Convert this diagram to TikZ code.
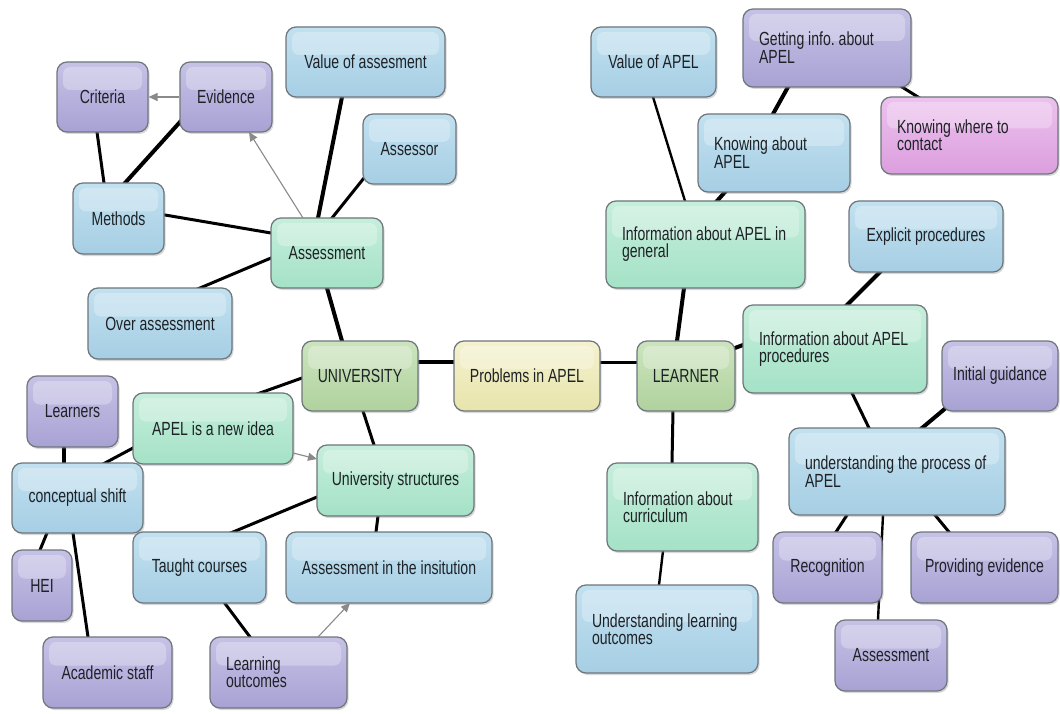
\documentclass[tikz,border=0pt]{standalone}
\usepackage{fontspec}
\setmainfont{Liberation Sans}[FakeStretch=0.74]
\usetikzlibrary{arrows.meta,shadows}

\definecolor{bluebase}{RGB}{166,206,228}
\definecolor{bluetop}{RGB}{194,225,240}
\definecolor{purpbase}{RGB}{168,162,212}
\definecolor{purptop}{RGB}{198,194,230}
\definecolor{greenbase}{RGB}{164,226,198}
\definecolor{greentop}{RGB}{198,238,220}
\definecolor{olivebase}{RGB}{176,210,158}
\definecolor{olivetop}{RGB}{204,228,190}
\definecolor{yelbase}{RGB}{232,228,172}
\definecolor{yeltop}{RGB}{244,242,206}
\definecolor{pinkbase}{RGB}{220,158,222}
\definecolor{pinktop}{RGB}{236,194,238}
\definecolor{edgegray}{RGB}{110,118,124}
\definecolor{ink}{RGB}{30,34,38}
\definecolor{arrowgray}{RGB}{138,138,138}

\newcommand{\boxfont}{\fontsize{19}{17}\selectfont\frenchspacing
  \hyphenpenalty=10000\relax\exhyphenpenalty=10000\relax}

\pgfdeclarelayer{back}
\pgfdeclarelayer{links}
\pgfsetlayers{back,links,main}

\begin{document}
\begin{tikzpicture}[x=1pt,y=-1pt,
  box/.style={draw=edgegray,line width=1.2pt,rounded corners=10pt,align=center,
    font=\boxfont,text=ink,inner xsep=6pt,inner ysep=0pt,
    drop shadow={shadow xshift=1.5pt,shadow yshift=-2pt,opacity=0.3},
    path picture={\fill[white,opacity=0.28,rounded corners=7pt]
      ([xshift=6pt,yshift=-5pt]path picture bounding box.north west) rectangle
      ([xshift=-6pt,yshift=7pt]path picture bounding box.east);}},
  cblue/.style={box,top color=bluetop,bottom color=bluebase},
  cpurple/.style={box,top color=purptop,bottom color=purpbase},
  cgreen/.style={box,top color=greentop,bottom color=greenbase},
  colive/.style={box,top color=olivetop,bottom color=olivebase},
  cyellow/.style={box,top color=yeltop,bottom color=yelbase},
  cpink/.style={box,top color=pinktop,bottom color=pinkbase},
  sz/.style 2 args={minimum width=#1pt,minimum height=#2pt},
  ml/.style={align=flush left,inner xsep=16pt,text width=#1pt},
  link/.style={line width=3pt,shorten <=-4pt,shorten >=-4pt},
  heavy/.style={link,line width=4pt},
  light/.style={link,line width=2.4pt},
  garrow/.style={draw=arrowgray,line width=1.1pt,-{Triangle[length=9pt,width=8pt]}}
]
\begin{pgfonlayer}{back}
  \fill[white] (0,0) rectangle (1060,714);
\end{pgfonlayer}
\useasboundingbox (0,0) rectangle (1060,714);

% ---- university side ----
\node[cpurple,sz={91}{70}]  (crit)   at (102.5,97)  {Criteria};
\node[cpurple,sz={92}{70}]  (evid)   at (226,97)    {Evidence};
\node[cblue,sz={159}{70}]   (vass)   at (365.5,62)  {Value of assesment};
\node[cblue,sz={93}{70}]    (assr)   at (409.5,149) {Assessor};
\node[cblue,sz={91}{71}]    (meth)   at (118.5,218.5) {Methods};
\node[cgreen,sz={112}{70}]  (asmt)   at (327,253)   {Assessment};
\node[cblue,sz={144}{71}]   (over)   at (160,323.5) {Over assessment};
\node[colive,sz={116}{70}]  (univ)   at (360,376)   {UNIVERSITY};
\node[cyellow,sz={146}{70}] (prob)   at (527,376)   {Problems in APEL};
\node[cpurple,sz={91}{71}]  (lrnrs)  at (72.5,411.5) {Learners};
\node[cgreen,sz={160}{71}]  (newid)  at (213,428.5) {APEL is a new idea};
\node[cblue,sz={131}{70}]   (cshift) at (77.5,498)  {conceptual shift};
\node[cgreen,sz={157}{71}]  (ustr)   at (395.5,480.5) {University structures};
\node[cpurple,sz={60}{71}]  (hei)    at (42,585.5)  {HEI};
\node[cblue,sz={133}{71}]   (taught) at (199.5,567.5) {Taught courses};
\node[cblue,sz={206}{71}]   (ainst)  at (389,567.5) {Assessment in the insitution};
\node[cpurple,sz={129}{71}] (acad)   at (107.5,672.5) {Academic staff};
\node[cpurple,sz={137}{71},ml=105] (lout) at (278.5,672.5) {Learning\\outcomes};

% ---- learner side ----
\node[cblue,sz={125}{70}]   (vapel)  at (653.5,62)  {Value of APEL};
\node[cpurple,sz={168}{78},ml=136] (getinfo) at (827,48) {Getting~info.~about\\APEL};
\node[cblue,sz={152}{78},ml=120]   (knowab)  at (774,153) {Knowing~about\\APEL};
\node[cpink,sz={177}{77},ml=145]   (kwhere)  at (969.5,135.5) {Knowing~where~to\\contact};
\node[cgreen,sz={199}{87},ml=167]  (infogen) at (705.5,244.5) {Information~about~APEL~in\\general};
\node[cblue,sz={154}{71}]   (explicit) at (926,236.5) {Explicit procedures};
\node[cgreen,sz={184}{88},ml=152]  (infoproc) at (835,349) {Information~about~APEL\\procedures};
\node[colive,sz={98}{70}]   (lrnr)   at (686,376)   {LEARNER};
\node[cpurple,sz={116}{70}] (initg)  at (1000,376)  {Initial guidance};
\node[cblue,sz={216}{87},ml=184]   (under)   at (897,471.5) {understanding~the~process~of\\APEL};
\node[cgreen,sz={151}{88},ml=119]  (infocur) at (682.5,507) {Information~about\\curriculum};
\node[cpurple,sz={109}{71}] (recog)  at (827.5,567.5) {Recognition};
\node[cpurple,sz={147}{71}] (provev) at (984.5,567.5) {Providing evidence};
\node[cblue,sz={182}{88},ml=150]   (uloc)    at (667,629) {Understanding~learning\\outcomes};
\node[cpurple,sz={112}{71}] (asmtR)  at (891,655.5) {Assessment};

% ---- plain connectors, under the boxes ----
\begin{pgfonlayer}{links}
  \draw[link]  ([shift={(-5.5,35)}]crit.center)  -- ([shift={(-14.5,-35.5)}]meth.center);
  \draw[heavy] ([shift={(-46,25)}]evid.center)   -- ([shift={(6.5,-35.5)}]meth.center);
  \draw[link]  ([shift={(46.5,-3.5)}]meth.center) -- ([shift={(-56,-20)}]asmt.center);
  \draw[link]  ([shift={(40,-35.5)}]over.center) -- ([shift={(-56,5)}]asmt.center);
  \draw[heavy] ([shift={(-9,-35)}]asmt.center)   -- ([shift={(-23.5,35)}]vass.center);
  \draw[link]  ([shift={(5,-35)}]asmt.center)    -- ([shift={(-45.5,29)}]assr.center);
  \draw[heavy] ([shift={(0,35)}]asmt.center)     -- ([shift={(-18,-35)}]univ.center);
  \draw[heavy] ([shift={(58,-14)}]univ.center)   -- ([shift={(-73,-14)}]prob.center);
  \draw[link]  ([shift={(-58,2)}]univ.center)    -- ([shift={(47,-35.5)}]newid.center);
  \draw[link]  ([shift={(3,35)}]univ.center)     -- ([shift={(-21.5,-35.5)}]ustr.center);
  \draw[link]  ([shift={(-80,19.5)}]newid.center) -- ([shift={(27.5,-35)}]cshift.center);
  \draw[heavy] ([shift={(-8.5,35.5)}]lrnrs.center) -- ([shift={(-13.5,-35)}]cshift.center);
  \draw[link]  ([shift={(-30.5,35)}]cshift.center) -- ([shift={(-2,-35.5)}]hei.center);
  \draw[link]  ([shift={(-4.5,35)}]cshift.center)  -- ([shift={(-19.5,-35.5)}]acad.center);
  \draw[link]  ([shift={(-78.5,16.5)}]ustr.center) -- ([shift={(33.5,-35.5)}]taught.center);
  \draw[link]  ([shift={(-17.5,35.5)}]ustr.center) -- ([shift={(-13,-35.5)}]ainst.center);
  \draw[link]  ([shift={(25.5,36)}]taught.center)  -- ([shift={(-28.5,-35.5)}]lout.center);

  \draw[link]  ([shift={(74,-14)}]prob.center)   -- ([shift={(-49,-14)}]lrnr.center);
  \draw[heavy] ([shift={(-9,-35)}]lrnr.center)   -- ([shift={(-21.5,43.5)}]infogen.center);
  \draw[heavy] ([shift={(49,-28)}]lrnr.center)   -- ([shift={(-92,-4)}]infoproc.center);
  \draw[light] ([shift={(-20.5,-43.5)}]infogen.center) -- ([shift={(-0.5,35)}]vapel.center);
  \draw[heavy] ([shift={(11.5,-43.5)}]infogen.center)  -- ([shift={(-49,39)}]knowab.center);
  \draw[heavy] ([shift={(-1,-39)}]knowab.center)  -- ([shift={(-39,39)}]getinfo.center);
  \draw[link]  ([shift={(75,39)}]getinfo.center)  -- ([shift={(-51.5,-38.5)}]kwhere.center);
  \draw[heavy] ([shift={(12,-44)}]infoproc.center) -- ([shift={(-46,35.5)}]explicit.center);
  \draw[link]  ([shift={(17,44)}]infoproc.center)  -- ([shift={(-28,-43.5)}]under.center);
  \draw[heavy] ([shift={(-53,31)}]initg.center)    -- ([shift={(25,-43.5)}]under.center);
  \draw[link]  ([shift={(-50,43.5)}]under.center)  -- ([shift={(8.5,-35.5)}]recog.center);
  \draw[light] ([shift={(-14,43.5)}]under.center)  -- ([shift={(-13,-35.5)}]asmtR.center);
  \draw[link]  ([shift={(38,43.5)}]under.center)   -- ([shift={(-35.5,-35.5)}]provev.center);
  \draw[link]  ([shift={(-13,35)}]lrnr.center)     -- ([shift={(-10.5,-44)}]infocur.center);
  \draw[light] ([shift={(-19.5,44)}]infocur.center) -- ([shift={(-8,-44)}]uloc.center);
\end{pgfonlayer}

% ---- grey arrows ----
\draw[garrow] (evid.west) -- (crit.east);
\draw[garrow] ([shift={(-24,-35)}]asmt.center) -- ([shift={(23,35)}]evid.center);
\draw[garrow] ([shift={(80,24.5)}]newid.center) -- ([shift={(-78.5,-21.5)}]ustr.center);
\draw[garrow] ([shift={(39.5,-35.5)}]lout.center) -- ([shift={(-39,35.5)}]ainst.center);
\end{tikzpicture}
\end{document}
